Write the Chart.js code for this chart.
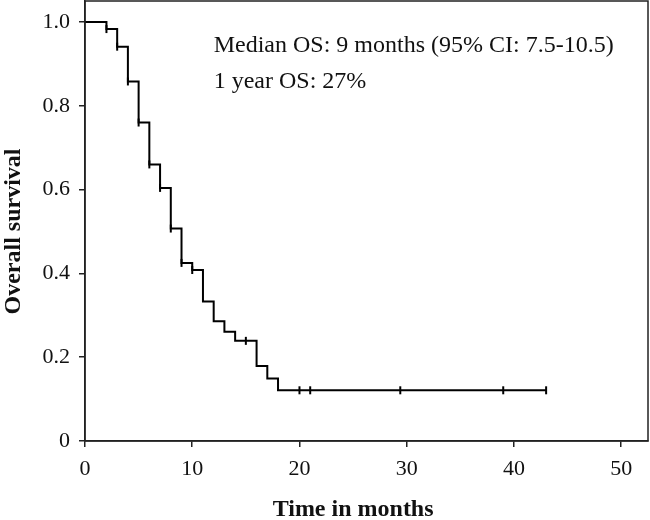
<!DOCTYPE html>
<html>
<head>
<meta charset="utf-8">
<script src="https://cdn.jsdelivr.net/npm/chart.js@4.4.1/dist/chart.umd.min.js"></script>
<style>
  html, body { margin: 0; padding: 0; background: #fff; }
  #wrap { width: 650px; height: 520px; }
</style>
</head>
<body>
<div id="wrap"><canvas id="km"></canvas></div>
<script>
// Kaplan-Meier steps (time in months, survival after the drop)
const times    = [0, 2, 3, 4, 5, 6, 7, 8, 9, 10, 11, 12, 13, 14, 16, 17, 18, 43]
const survival = [1.0, 0.983, 0.941, 0.858, 0.760, 0.660, 0.604, 0.507, 0.425, 0.408, 0.333, 0.286, 0.261, 0.239, 0.179, 0.149, 0.121, 0.121]

// censored observations
const censorTimes    = [2, 3, 4, 5, 6, 7, 8, 9, 10, 15, 20, 21, 29.4, 39, 43]
const censorSurvival = [0.983, 0.941, 0.858, 0.760, 0.660, 0.604, 0.507, 0.425, 0.408, 0.239, 0.121, 0.121, 0.121, 0.121, 0.121]

const xTicks = [0, 10, 20, 30, 40, 50]
const yTicks = [0, 0.2, 0.4, 0.6, 0.8, 1.0]

const xTitle = "Time in months"
const yTitle = "Overall survival"
const notes = ["Median OS: 9 months (95% CI: 7.5-10.5)", "1 year OS: 27%"]
const noteAnchor = { x: 12, y: [0.929, 0.843] }

const SERIF = "'Liberation Serif', 'DejaVu Serif', serif"

// frame around plot area, axis titles (centred on tick span) and text notes
let framePlugin = {
  id: "frame",
  afterDraw(chart) {
    const { ctx, chartArea: a, scales } = chart
    const sx = scales.x, sy = scales.y
    ctx.save()
    ctx.strokeStyle = "#222"
    ctx.lineWidth = 1.5
    ctx.strokeRect(a.left, a.top, a.right - a.left, a.bottom - a.top)

    ctx.fillStyle = "#111"
    ctx.font = "24px " + SERIF
    ctx.textBaseline = "alphabetic"
    ctx.textAlign = "left"
    notes.forEach((t, i) => {
      ctx.fillText(t, sx.getPixelForValue(noteAnchor.x), sy.getPixelForValue(noteAnchor.y[i]))
    })

    ctx.font = "bold 24px " + SERIF
    ctx.textAlign = "center"
    ctx.textBaseline = "middle"
    const xMid = (sx.getPixelForValue(xTicks[0]) + sx.getPixelForValue(xTicks[xTicks.length - 1])) / 2
    ctx.fillText(xTitle, xMid, sx.bottom - 10)
    const yMid = (sy.getPixelForValue(yTicks[0]) + sy.getPixelForValue(yTicks[yTicks.length - 1])) / 2
    ctx.translate(14, yMid)
    ctx.rotate(-Math.PI / 2)
    ctx.fillText(yTitle, 0, 0)
    ctx.restore()
  }
}

new Chart(document.getElementById("km"), {
  type: "line",
  data: {
    datasets: [
      {
        data: times.map((t, i) => ({ x: t, y: survival[i] })),
        stepped: true,
        borderColor: "#000",
        borderWidth: 2,
        pointRadius: 0,
        fill: false
      },
      {
        type: "scatter",
        data: censorTimes.map((t, i) => ({ x: t, y: censorSurvival[i] })),
        pointStyle: "line",
        rotation: 90,
        radius: 4,
        borderColor: "#000",
        borderWidth: 2,
        showLine: false
      }
    ]
  },
  options: {
    responsive: true,
    maintainAspectRatio: false,
    animation: false,
    layout: { autoPadding: false, padding: { top: 1, right: 2, left: 0, bottom: 0 } },
    plugins: { legend: { display: false }, tooltip: { enabled: false } },
    scales: {
      x: {
        type: "linear",
        min: 0,
        max: 52.5,
        afterBuildTicks: s => { s.ticks = xTicks.map(v => ({ value: v })) },
        afterFit: s => { s.height = 79; s.paddingLeft = 0; s.paddingRight = 0 },
        grid: { drawOnChartArea: false, drawTicks: true, tickLength: 6, color: "#222", lineWidth: 1.5 },
        border: { color: "#222", width: 1.5 },
        ticks: { color: "#111", padding: 9, font: { family: SERIF, size: 22 } },
        title: { display: false }
      },
      y: {
        type: "linear",
        min: 0,
        max: 1.05,
        afterBuildTicks: s => { s.ticks = yTicks.map(v => ({ value: v })) },
        afterFit: s => { s.width = 85; s.paddingTop = 0; s.paddingBottom = 0 },
        grid: { drawOnChartArea: false, drawTicks: true, tickLength: 6, color: "#222", lineWidth: 1.5 },
        border: { color: "#222", width: 1.5 },
        ticks: {
          color: "#111",
          padding: 9,
          font: { family: SERIF, size: 22 },
          callback: v => v === 0 ? "0" : v.toFixed(1)
        },
        title: { display: false }
      }
    }
  },
  plugins: [framePlugin]
})
</script>
</body>
</html>
